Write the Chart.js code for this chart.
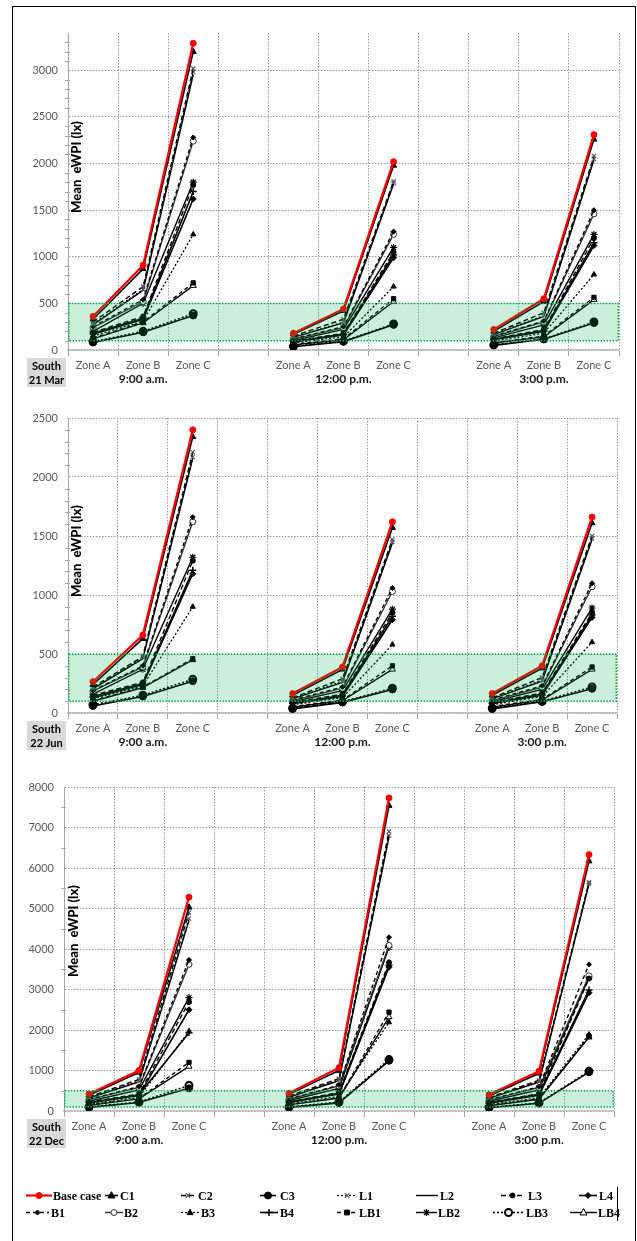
<!DOCTYPE html>
<html>
<head>
<meta charset="utf-8">
<script src="https://cdn.jsdelivr.net/npm/chart.js@4/dist/chart.umd.min.js"></script>
<style>
  html, body { margin: 0; padding: 0; background: #fff; }
  body { width: 637px; height: 1241px; position: relative; overflow: hidden; }
  .frame { position: absolute; left: 12px; top: 6px; width: 624px; height: 1250px;
           border: 1.5px solid #000; box-sizing: border-box; }
  canvas { position: absolute; left: 0; }
</style>
</head>
<body>
<div class="frame"></div>
<canvas id="pMar" style="top:0px"></canvas>
<canvas id="pJun" style="top:392px"></canvas>
<canvas id="pDec" style="top:755px"></canvas>
<canvas id="legend" style="top:1153px"></canvas>

<script>
// ---- categories and labels ----
const zones = ['Zone A', 'Zone B', 'Zone C'];
const times = ['9:00 a.m.', '12:00 p.m.', '3:00 p.m.'];
const dates = ['21 Mar', '22 Jun', '22 Dec'];
const orientation = 'South';
const yTitle = 'Mean  eWPI (lx)';
const seriesNames = ['Base case', 'C1', 'C2', 'C3', 'L1', 'L2', 'L3', 'L4',
                     'B1', 'B2', 'B3', 'B4', 'LB1', 'LB2', 'LB3', 'LB4'];

// ---- y axes: maximum, major step, minor step (lx) ----
const yMaxes = [3400, 2500, 8000];
const yMajorSteps = [500, 500, 1000];
const yMinorSteps = [100, 100, 500];
// recommended illuminance band (lx)
const comfortBand = [100, 500];

// ---- mean eWPI, 21 March: 9:00 A,B,C | 12:00 A,B,C | 3:00 A,B,C ----
const marBase = [360, 910, 3290, 180, 440, 2020, 220, 550, 2310];
const marC1   = [330, 870, 3200, 170, 420, 1980, 200, 520, 2260];
const marC2   = [300, 680, 3020, 150, 330, 1810, 180, 400, 2080];
const marC3   = [80, 190, 370, 35, 90, 270, 50, 115, 290];
const marL1   = [280, 650, 2980, 140, 300, 1790, 170, 370, 2050];
const marL2   = [270, 640, 2950, 135, 290, 1780, 165, 360, 2040];
const marL3   = [190, 360, 1770, 95, 180, 1050, 120, 220, 1200];
const marL4   = [170, 330, 1620, 85, 160, 990, 110, 200, 1120];
const marB1   = [250, 540, 2280, 120, 250, 1270, 150, 310, 1500];
const marB2   = [240, 520, 2240, 115, 240, 1240, 145, 300, 1460];
const marB3   = [150, 310, 1240, 75, 140, 680, 95, 180, 810];
const marB4   = [180, 340, 1700, 90, 170, 1020, 115, 210, 1150];
const marLB1  = [130, 300, 720, 60, 120, 550, 80, 150, 565];
const marLB2  = [200, 500, 1800, 100, 220, 1100, 130, 270, 1240];
const marLB3  = [90, 200, 390, 40, 95, 280, 55, 120, 300];
const marLB4  = [120, 290, 690, 55, 110, 520, 75, 140, 540];

// ---- mean eWPI, 22 June ----
const junBase = [265, 660, 2400, 165, 390, 1620, 165, 400, 1660];
const junC1   = [240, 630, 2340, 150, 370, 1570, 150, 380, 1610];
const junC2   = [220, 480, 2210, 130, 290, 1470, 130, 300, 1500];
const junC3   = [60, 140, 270, 35, 90, 200, 35, 95, 205];
const junL1   = [210, 470, 2170, 125, 270, 1450, 125, 280, 1480];
const junL2   = [205, 460, 2160, 120, 260, 1440, 120, 270, 1470];
const junL3   = [150, 260, 1290, 90, 160, 850, 90, 170, 850];
const junL4   = [130, 240, 1180, 80, 140, 790, 80, 150, 810];
const junB1   = [190, 400, 1660, 110, 220, 1060, 110, 230, 1100];
const junB2   = [185, 390, 1620, 105, 210, 1030, 105, 220, 1070];
const junB3   = [120, 230, 900, 70, 130, 580, 70, 140, 600];
const junB4   = [140, 250, 1210, 85, 150, 820, 85, 160, 830];
const junLB1  = [105, 220, 460, 55, 110, 400, 55, 115, 390];
const junLB2  = [160, 370, 1320, 95, 190, 880, 95, 200, 890];
const junLB3  = [70, 150, 285, 40, 95, 210, 40, 100, 220];
const junLB4  = [100, 215, 450, 50, 105, 370, 50, 110, 370];

// ---- mean eWPI, 22 December ----
const decBase = [420, 1000, 5280, 440, 1070, 7730, 400, 980, 6330];
const decC1   = [390, 950, 5030, 410, 1000, 7540, 370, 930, 6170];
const decC2   = [350, 780, 4900, 370, 800, 6900, 330, 760, 5650];
const decC3   = [90, 210, 560, 90, 200, 1240, 80, 190, 960];
const decL1   = [330, 740, 4750, 350, 770, 6800, 320, 730, 5620];
const decL2   = [320, 720, 4700, 340, 750, 6760, 310, 710, 5600];
const decL3   = [220, 420, 2690, 230, 460, 3670, 210, 430, 3270];
const decL4   = [200, 380, 2500, 210, 420, 3550, 190, 390, 2920];
const decB1   = [290, 600, 3730, 300, 640, 4290, 280, 600, 3620];
const decB2   = [280, 580, 3620, 290, 620, 4090, 270, 580, 3340];
const decB3   = [170, 340, 1970, 180, 360, 2190, 160, 330, 1890];
const decB4   = [210, 400, 1930, 220, 440, 3600, 200, 410, 2990];
const decLB1  = [150, 310, 1200, 160, 330, 2440, 140, 300, 1850];
const decLB2  = [240, 520, 2800, 260, 560, 4040, 240, 520, 3300];
const decLB3  = [100, 220, 630, 100, 220, 1270, 90, 200, 980];
const decLB4  = [140, 300, 1100, 150, 320, 2320, 130, 290, 1820];

const marSeries = [marBase, marC1, marC2, marC3, marL1, marL2, marL3, marL4,
                   marB1, marB2, marB3, marB4, marLB1, marLB2, marLB3, marLB4];
const junSeries = [junBase, junC1, junC2, junC3, junL1, junL2, junL3, junL4,
                   junB1, junB2, junB3, junB4, junLB1, junLB2, junLB3, junLB4];
const decSeries = [decBase, decC1, decC2, decC3, decL1, decL2, decL3, decL4,
                   decB1, decB2, decB3, decB4, decLB1, decLB2, decLB3, decLB4];

// ---- line and marker styles, in seriesNames order ----
const seriesStyles = [
  { color: '#ff0000', width: 2.2, dash: [],     marker: 'circle',   r: 3,   fill: '#ff0000', mcolor: '#ff0000', mw: 1 },
  { color: '#000',    width: 1.6, dash: [],     marker: 'triangle', r: 3.5, fill: '#000',    mcolor: '#000',    mw: 1 },
  { color: '#000',    width: 1.4, dash: [5, 3], marker: 'crossRot', r: 3,   fill: '#000',    mcolor: '#555',    mw: 1.2 },
  { color: '#000',    width: 1.6, dash: [],     marker: 'circle',   r: 3.5, fill: '#000',    mcolor: '#000',    mw: 1 },
  { color: '#000',    width: 1.2, dash: [2, 2], marker: 'crossRot', r: 3,   fill: '#000',    mcolor: '#666',    mw: 1.2 },
  { color: '#000',    width: 1.4, dash: [],     marker: false,      r: 0,   fill: '#000',    mcolor: '#000',    mw: 1 },
  { color: '#000',    width: 1.4, dash: [5, 3], marker: 'circle',   r: 2.5, fill: '#000',    mcolor: '#000',    mw: 1 },
  { color: '#000',    width: 1.6, dash: [],     marker: 'rectRot',  r: 3,   fill: '#000',    mcolor: '#000',    mw: 1 },
  { color: '#000',    width: 1.4, dash: [4, 3], marker: 'rectRot',  r: 2.5, fill: '#000',    mcolor: '#000',    mw: 1 },
  { color: '#333',    width: 1.4, dash: [],     marker: 'circle',   r: 3,   fill: '#fff',    mcolor: '#333',    mw: 1 },
  { color: '#000',    width: 1.3, dash: [2, 2], marker: 'triangle', r: 3,   fill: '#000',    mcolor: '#000',    mw: 1 },
  { color: '#000',    width: 1.6, dash: [],     marker: 'cross',    r: 3.5, fill: '#000',    mcolor: '#000',    mw: 1.5 },
  { color: '#000',    width: 1.4, dash: [4, 3], marker: 'rect',     r: 3,   fill: '#000',    mcolor: '#000',    mw: 1 },
  { color: '#000',    width: 1.4, dash: [],     marker: 'star',     r: 3.5, fill: '#000',    mcolor: '#000',    mw: 1.2 },
  { color: '#000',    width: 1.6, dash: [2, 2], marker: 'circle',   r: 3.5, fill: '#fff',    mcolor: '#000',    mw: 2 },
  { color: '#000',    width: 1.4, dash: [],     marker: 'triangle', r: 3.5, fill: '#fff',    mcolor: '#000',    mw: 1 }
];

// three time groups separated by an empty category
const xLabels = [...zones, '', ...zones, '', ...zones];
function withGaps(v) {
  return [v[0], v[1], v[2], null, v[3], v[4], v[5], null, v[6], v[7], v[8]];
}

Chart.defaults.font.family = 'Lato, "Open Sans", sans-serif';
Chart.defaults.color = '#595959';

// band, minor ticks, rotated y title, time labels and date box
const panelDecor = {
  id: 'panelDecor',
  afterDatasetsDraw(chart, args, o) {
    const { ctx, chartArea: a, scales: { y } } = chart;
    const yTop = y.getPixelForValue(comfortBand[1]);
    const yBot = y.getPixelForValue(comfortBand[0]);
    ctx.save();
    ctx.fillStyle = 'rgba(0,176,80,0.2)';
    ctx.fillRect(a.left, yTop, a.right - a.left, yBot - yTop);
    ctx.strokeStyle = '#00b050';
    ctx.lineWidth = 1.5;
    ctx.setLineDash([1.5, 1.5]);
    ctx.strokeRect(a.left + 0.75, yTop, a.right - a.left - 1.5, yBot - yTop);
    ctx.restore();
  },
  afterDraw(chart, args, o) {
    const { ctx, chartArea: a, scales: { x, y } } = chart;
    ctx.save();
    // minor tick marks on the value axis
    ctx.strokeStyle = '#a6a6a6';
    ctx.lineWidth = 1;
    for (let v = o.minor; v < y.max; v += o.minor) {
      if (v % o.major === 0) continue;
      const py = Math.round(y.getPixelForValue(v)) + 0.5;
      ctx.beginPath();
      ctx.moveTo(a.left - 3, py);
      ctx.lineTo(a.left + 2, py);
      ctx.stroke();
    }
    // time-of-day labels under the middle zone of each group
    ctx.fillStyle = '#1a1a1a';
    ctx.font = 'bold 12px Lato';
    ctx.textAlign = 'center';
    ctx.textBaseline = 'middle';
    times.forEach((t, i) => {
      ctx.fillText(t, x.getPixelForValue(i * 4 + 1), a.bottom + 29);
    });
    // orientation / date box
    const bx = 27, bw = 39, by = a.bottom + 8, bh = 29;
    ctx.fillStyle = '#d9d9d9';
    ctx.fillRect(bx, by, bw, bh);
    ctx.fillStyle = '#000';
    ctx.font = 'bold 11px Lato';
    ctx.fillText(orientation, bx + bw / 2, by + 8);
    ctx.fillText(o.date, bx + bw / 2, by + 22);
    // y title, drawn inside the plot area
    ctx.translate(a.left + o.titleDx, o.titleY);
    ctx.rotate(-Math.PI / 2);
    ctx.fillStyle = '#000';
    ctx.font = '900 13px Lato';
    ctx.fillText(yTitle, 0, 0);
    ctx.restore();
  }
};

function makePanel(id, w, h, series, p) {
  const cv = document.getElementById(id);
  cv.width = w; cv.height = h;
  cv.style.width = w + 'px'; cv.style.height = h + 'px';
  const datasets = series.map((vals, i) => {
    const s = seriesStyles[i];
    return {
      label: seriesNames[i],
      data: withGaps(vals),
      borderColor: s.color,
      borderWidth: s.width,
      borderDash: s.dash,
      pointStyle: s.marker,
      pointRadius: s.r,
      pointBackgroundColor: s.fill,
      pointBorderColor: s.mcolor,
      pointBorderWidth: s.mw,
      pointHoverRadius: s.r,
      tension: 0,
      fill: false,
      spanGaps: false
    };
  });
  return new Chart(cv, {
    type: 'line',
    data: { labels: xLabels, datasets },
    plugins: [panelDecor],
    options: {
      responsive: false,
      animation: false,
      events: [],
      layout: { padding: { top: p.top, left: 0, right: p.right, bottom: 0 } },
      plugins: {
        legend: { display: false },
        tooltip: { enabled: false },
        panelDecor: { minor: p.minor, major: p.major, date: p.date, titleDx: p.titleDx, titleY: p.titleY }
      },
      scales: {
        x: {
          type: 'category',
          offset: true,
          grid: { offset: true, color: '#9a9a9a', lineWidth: 1, drawTicks: true, tickLength: 6, tickColor: '#a6a6a6' },
          border: { display: true, color: '#bfbfbf', width: 1.5, dash: [1.5, 1.5] },
          ticks: { autoSkip: false, maxRotation: 0, minRotation: 0, padding: 3, color: '#595959', font: { size: 11 } },
          afterFit: (s) => { s.height = 42; }
        },
        y: {
          min: 0, max: p.max,
          grid: { color: '#9a9a9a', lineWidth: 1, drawTicks: false },
          border: { display: true, color: '#a6a6a6', width: 1, dash: [1.5, 1.5] },
          ticks: { padding: 10, color: '#595959', font: { size: 11 }, callback: (v) => String(v) },
          afterBuildTicks: (s) => {
            const t = [];
            for (let v = 0; v <= p.max; v += p.major) t.push({ value: v });
            s.ticks = t;
          },
          afterFit: (s) => { s.width = p.axisW; }
        }
      }
    }
  });
}

makePanel('pMar', 637, 392, marSeries,
  { top: 33, right: 18, axisW: 68, max: yMaxes[0], major: yMajorSteps[0], minor: yMinorSteps[0], date: dates[0], titleDx: 9, titleY: 167 });
makePanel('pJun', 637, 363, junSeries,
  { top: 26, right: 20, axisW: 68, max: yMaxes[1], major: yMajorSteps[1], minor: yMinorSteps[1], date: dates[1], titleDx: 9, titleY: 159 });
makePanel('pDec', 637, 398, decSeries,
  { top: 32, right: 23, axisW: 64, max: yMaxes[2], major: yMajorSteps[2], minor: yMinorSteps[2], date: dates[2], titleDx: 10, titleY: 176 });

// ---- shared legend (two rows of eight) ----
function drawMarker(ctx, s, x, y) {
  if (!s.marker) return;
  const r = s.r;
  ctx.save();
  ctx.setLineDash([]);
  ctx.fillStyle = s.fill;
  ctx.strokeStyle = s.mcolor;
  ctx.lineWidth = s.mw;
  ctx.beginPath();
  switch (s.marker) {
    case 'circle':
      ctx.arc(x, y, r, 0, Math.PI * 2); ctx.fill(); ctx.stroke(); break;
    case 'triangle':
      ctx.moveTo(x, y - r * 1.1); ctx.lineTo(x + r, y + r * 0.7); ctx.lineTo(x - r, y + r * 0.7);
      ctx.closePath(); ctx.fill(); ctx.stroke(); break;
    case 'rect':
      ctx.rect(x - r * 0.8, y - r * 0.8, r * 1.6, r * 1.6); ctx.fill(); ctx.stroke(); break;
    case 'rectRot':
      ctx.moveTo(x, y - r); ctx.lineTo(x + r, y); ctx.lineTo(x, y + r); ctx.lineTo(x - r, y);
      ctx.closePath(); ctx.fill(); ctx.stroke(); break;
    case 'cross':
      ctx.moveTo(x - r, y); ctx.lineTo(x + r, y); ctx.moveTo(x, y - r); ctx.lineTo(x, y + r); ctx.stroke(); break;
    case 'crossRot': {
      const d = r * 0.75;
      ctx.moveTo(x - d, y - d); ctx.lineTo(x + d, y + d); ctx.moveTo(x + d, y - d); ctx.lineTo(x - d, y + d); ctx.stroke(); break;
    }
    case 'star': {
      const d = r * 0.72;
      ctx.moveTo(x - r, y); ctx.lineTo(x + r, y); ctx.moveTo(x, y - r); ctx.lineTo(x, y + r);
      ctx.moveTo(x - d, y - d); ctx.lineTo(x + d, y + d); ctx.moveTo(x + d, y - d); ctx.lineTo(x - d, y + d);
      ctx.stroke(); break;
    }
  }
  ctx.restore();
}

(function drawLegend() {
  const cv = document.getElementById('legend');
  const w = 637, h = 88;
  cv.width = w; cv.height = h;
  cv.style.width = w + 'px'; cv.style.height = h + 'px';
  const ctx = cv.getContext('2d');
  // [line start, line end, text x, row]
  const slots = [
    [26, 52, 53, 0], [105, 118, 120, 0], [181, 195, 198, 0], [260, 276, 280, 0],
    [337, 357, 359, 0], [416, 438, 440, 0], [501, 524, 528, 0], [579, 597, 599, 0],
    [26, 49, 51, 1], [105, 123, 124, 1], [181, 199, 201, 1], [260, 278, 280, 1],
    [337, 357, 359, 1], [416, 437, 438, 1], [493, 524, 526, 1], [570, 597, 598, 1]
  ];
  const rowY = [42, 59];
  ctx.font = 'bold 12px "Liberation Serif", "Times New Roman", serif';
  ctx.textBaseline = 'middle';
  ctx.textAlign = 'left';
  seriesNames.forEach((name, i) => {
    const s = seriesStyles[i];
    const [x0, x1, tx, row] = slots[i];
    const y = rowY[row] + 0.5;
    ctx.save();
    ctx.strokeStyle = s.color;
    ctx.lineWidth = s.width;
    ctx.setLineDash(s.dash);
    ctx.beginPath(); ctx.moveTo(x0, y); ctx.lineTo(x1, y); ctx.stroke();
    ctx.restore();
    drawMarker(ctx, s, (x0 + x1) / 2, y);
    ctx.fillStyle = '#000';
    ctx.fillText(name, tx, y + 1);
  });
  ctx.strokeStyle = '#000';
  ctx.lineWidth = 1;
  ctx.beginPath(); ctx.moveTo(617.5, 34); ctx.lineTo(617.5, 68); ctx.stroke();
})();
</script>
</body>
</html>
